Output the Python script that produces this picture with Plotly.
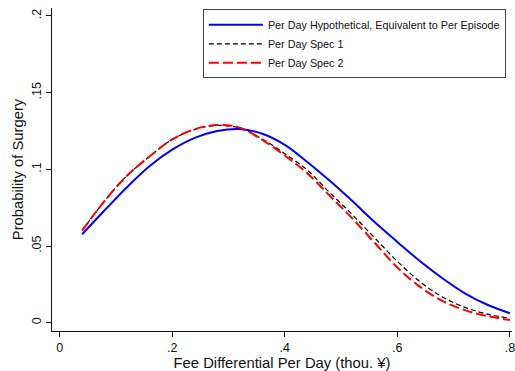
import plotly.graph_objects as go

fee = [0.04, 0.08, 0.12, 0.16, 0.20, 0.24, 0.28, 0.32, 0.36, 0.40,
       0.44, 0.48, 0.52, 0.56, 0.60, 0.64, 0.68, 0.72, 0.76, 0.80]

hypothetical = [0.0577, 0.0733, 0.0885, 0.1022, 0.1128, 0.1205, 0.1250, 0.1263, 0.1232, 0.1160,
                0.1048, 0.0925, 0.0793, 0.0655, 0.0527, 0.0402, 0.0290, 0.0192, 0.0117, 0.0062]

spec1 = [0.0602, 0.0795, 0.0960, 0.1085, 0.1195, 0.1260, 0.1286, 0.1270, 0.1197, 0.1102,
         0.0995, 0.0848, 0.0705, 0.0552, 0.0400, 0.0268, 0.0168, 0.0100, 0.0056, 0.0029]

spec2 = [0.0600, 0.0795, 0.0960, 0.1085, 0.1195, 0.1262, 0.1289, 0.1272, 0.1192, 0.1090,
         0.0975, 0.0828, 0.0680, 0.0520, 0.0360, 0.0235, 0.0142, 0.0082, 0.0043, 0.0018]

names = ["Per Day Hypothetical, Equivalent to Per Episode", "Per Day Spec 1", "Per Day Spec 2"]

x_ticks = [0, 0.2, 0.4, 0.6, 0.8]
x_labels = ["0", ".2", ".4", ".6", ".8"]
y_ticks = [0, 0.05, 0.1, 0.15, 0.2]
y_labels = ["0", ".05", ".1", ".15", ".2"]

FONT = "Liberation Sans, Arial, sans-serif"

fig = go.Figure()
fig.add_trace(go.Scatter(x=fee, y=hypothetical, name=names[0], mode="lines",
                         line=dict(color="#0000FF", width=2, shape="spline")))
fig.add_trace(go.Scatter(x=fee, y=spec1, name=names[1], mode="lines",
                         line=dict(color="#000000", width=1.2, dash="5px,3px", shape="spline")))
fig.add_trace(go.Scatter(x=fee, y=spec2, name=names[2], mode="lines",
                         line=dict(color="#FF0000", width=2, dash="10px,4px", shape="spline")))

fig.update_layout(
    width=515, height=371,
    margin=dict(l=52, r=0, t=8, b=40),
    paper_bgcolor="white", plot_bgcolor="white",
    font=dict(family=FONT, color="#111111"),
    showlegend=True,
    legend=dict(
        x=0.328, y=0.996, xanchor="left", yanchor="top",
        bgcolor="white", bordercolor="#444444", borderwidth=1,
        font=dict(size=10.8, family=FONT, color="#111111"),
        tracegroupgap=0, itemwidth=54,
    ),
    xaxis=dict(
        range=[-0.0136, 0.8037], showgrid=False, zeroline=False,
        showline=True, linecolor="#111111", linewidth=1,
        ticks="outside", ticklen=5, tickcolor="#111111",
        tickvals=x_ticks, ticktext=x_labels, ticklabeloverflow="allow",
        tickfont=dict(size=12.5, family=FONT),
        title=dict(text="Fee Differential Per Day (thou. ¥)", font=dict(size=14.8, family=FONT), standoff=5),
    ),
    yaxis=dict(
        range=[-0.0054, 0.2052], showgrid=False, zeroline=False,
        showline=True, linecolor="#111111", linewidth=1,
        ticks="outside", ticklen=5, tickcolor="#111111",
        tickvals=y_ticks, ticktext=y_labels, tickangle=-90,
        tickfont=dict(size=12.5, family=FONT),
        title=dict(text="Probability of Surgery", font=dict(size=14.8, family=FONT), standoff=2),
    ),
)

fig.write_html("out.html")
